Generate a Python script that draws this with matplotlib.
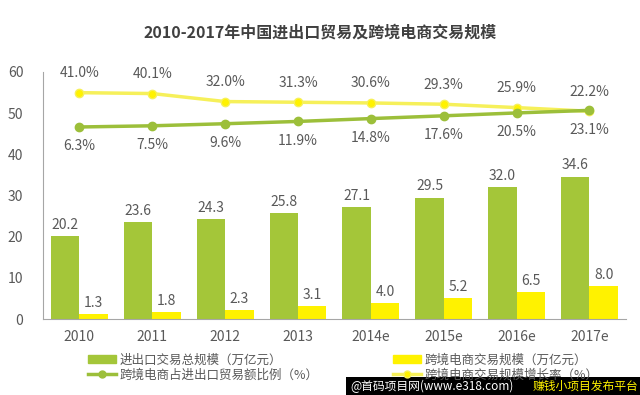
import matplotlib.pyplot as plt
from matplotlib.lines import Line2D
from matplotlib.patches import Patch, Rectangle
import numpy as np

plt.rcParams['font.family'] = ['Noto Sans CJK SC', 'DejaVu Sans']

# 数据
years = ['2010', '2011', '2012', '2013', '2014e', '2015e', '2016e', '2017e']
trade_total = [20.2, 23.6, 24.3, 25.8, 27.1, 29.5, 32.0, 34.6]       # 进出口交易总规模
ecommerce = [1.3, 1.8, 2.3, 3.1, 4.0, 5.2, 6.5, 8.0]                  # 跨境电商交易规模
share_pct = [6.3, 7.5, 9.6, 11.9, 14.8, 17.6, 20.5, 23.1]             # 占比
growth_pct = [41.0, 40.1, 32.0, 31.3, 30.6, 29.3, 25.9, 22.2]         # 增长率

green = '#A4C639'
yellow = '#FFF200'
line_green = '#9CBF3A'
line_yellow = '#F6F05A'
txt = '#595959'

fig = plt.figure(figsize=(6.4, 3.95), dpi=100)
ax = fig.add_axes([0.067, 0.192, 0.911, 0.626])
x = np.arange(len(years))
w = 0.39

ax.bar(x - w/2, trade_total, w, color=green)
ax.bar(x + w/2, ecommerce, w, color=yellow)
for xi, v in zip(x, trade_total):
    ax.text(xi - w/2, v + 1.0, f'{v:.1f}', ha='center', va='bottom', fontsize=10, color=txt)
for xi, v in zip(x, ecommerce):
    ax.text(xi + w/2, v + 1.0, f'{v:.1f}', ha='center', va='bottom', fontsize=10, color=txt)

ax.set_xlim(-0.5, len(years) - 0.5)
ax.set_ylim(0, 60)
ax.set_yticks(range(0, 61, 10))
ax.set_xticks(x)
ax.set_xticklabels(years)
ax.tick_params(length=0, labelsize=10, colors=txt, pad=8)
ax.tick_params(axis='y', pad=14)
for s in ['top', 'right']:
    ax.spines[s].set_visible(False)
ax.spines['left'].set_color('#A6A6A6')
ax.spines['bottom'].set_color('#A6A6A6')

# 折线用隐藏的次坐标轴
ax2 = ax.twinx()
ax2.set_ylim(-188, 62)
ax2.axis('off')
ax2.plot(x, growth_pct, color=line_yellow, lw=2.5, marker='o', ms=6, mfc=yellow, mec=line_yellow, zorder=3)
ax2.plot(x, share_pct, color=line_green, lw=2.5, marker='o', ms=6, mfc=line_green, mec=line_green, zorder=3)
for xi, v in zip(x, growth_pct):
    ax2.annotate(f'{v:.1f}%', (xi, v), xytext=(0, 9), textcoords='offset points',
                 ha='center', va='bottom', fontsize=10, color=txt)
for xi, v in zip(x, share_pct):
    ax2.annotate(f'{v:.1f}%', (xi, v), xytext=(0, -9), textcoords='offset points',
                 ha='center', va='top', fontsize=10, color=txt)

fig.text(0.5, 0.905, '2010-2017年中国进出口贸易及跨境电商交易规模', ha='center',
         fontsize=11.5, fontweight='bold', color='#404040')

handles = [Patch(color=green),
           Line2D([], [], color=line_green, lw=2.5, marker='o', ms=5),
           Patch(color=yellow),
           Line2D([], [], color=line_yellow, lw=2.5, marker='o', ms=5, mfc=yellow)]
labels = ['进出口交易总规模（万亿元）', '跨境电商占进出口贸易额比例（%）',
          '跨境电商交易规模（万亿元）', '跨境电商交易规模增长率（%）']
leg = fig.legend(handles, labels, ncol=2, loc='lower left', bbox_to_anchor=(0.12, 0.005),
                 frameon=False, fontsize=9, handlelength=2.2, handletextpad=0.3,
                 columnspacing=6.0, labelspacing=0.2)
for t in leg.get_texts():
    t.set_color(txt)

# 水印
fig.add_artist(Rectangle((0.54, 0.0), 0.46, 0.045, transform=fig.transFigure,
                         facecolor='black', edgecolor='none', zorder=5))
fig.text(0.548, 0.006, '@首码项目网(www.e318.com)', ha='left', va='bottom', fontsize=8.5,
         color='white', zorder=6)
fig.text(0.997, 0.006, '赚钱小项目发布平台', ha='right', va='bottom', fontsize=8.5,
         color='#FFF200', zorder=6)

fig.savefig('out.png', dpi=100)
